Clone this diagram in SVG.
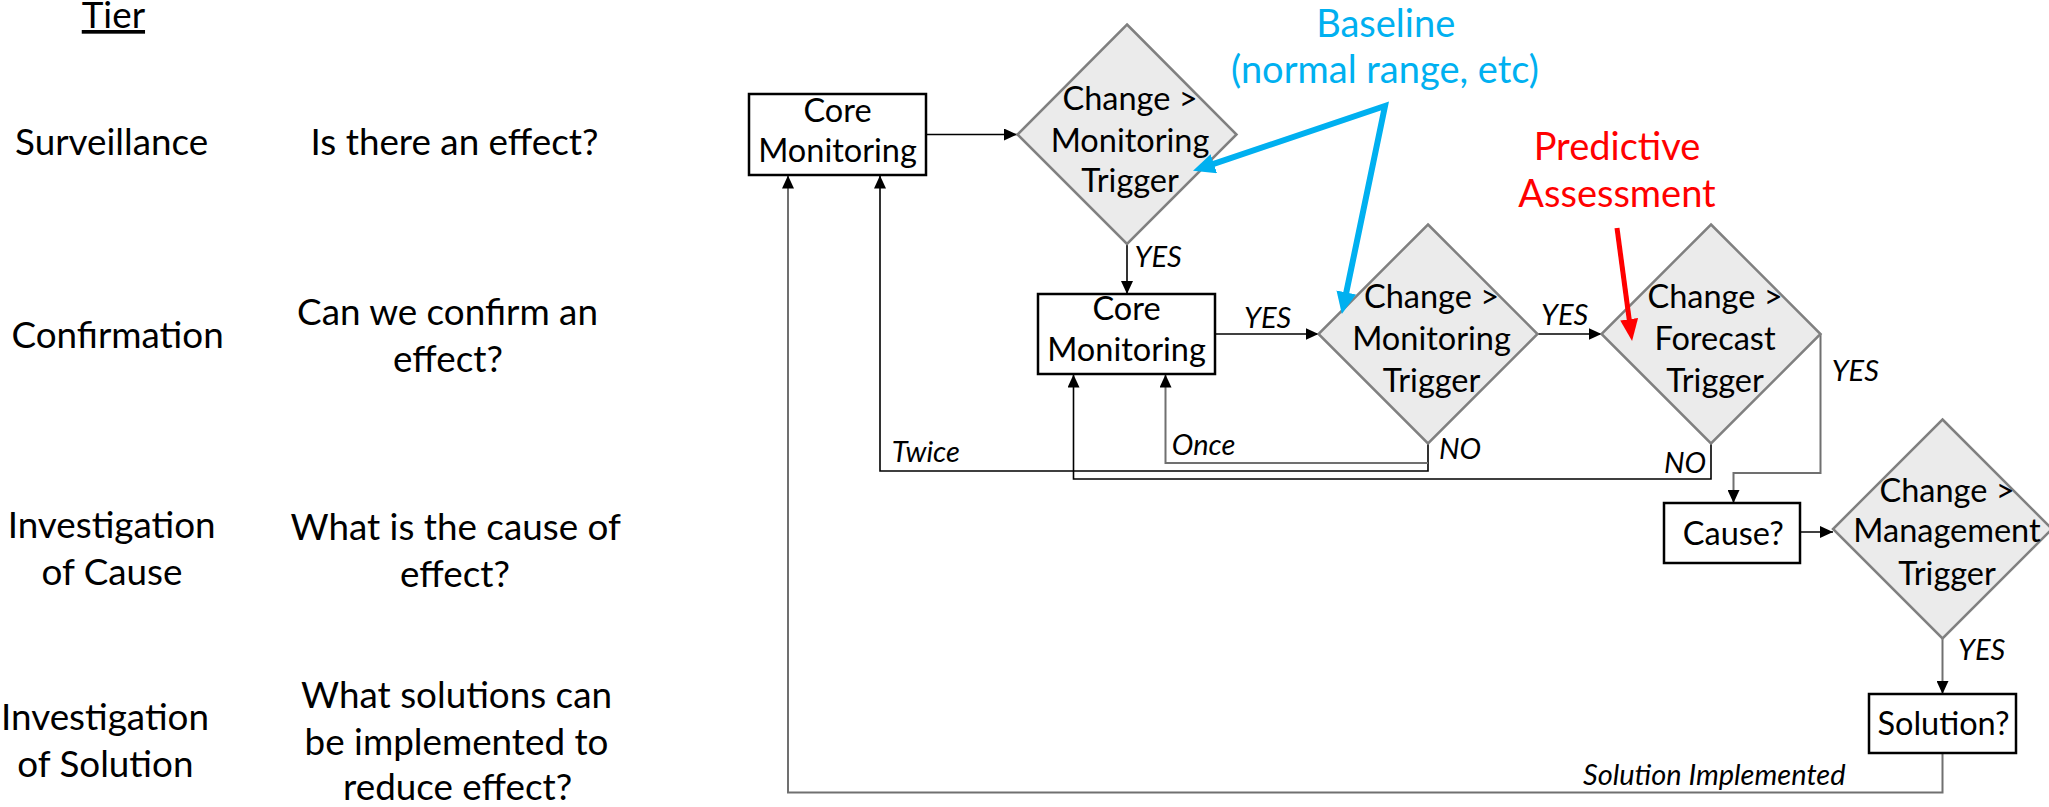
<svg xmlns="http://www.w3.org/2000/svg" width="2049" height="807" viewBox="0 0 2049 807">
<defs>
<marker id="ah" markerUnits="userSpaceOnUse" markerWidth="13" markerHeight="12" viewBox="0 0 13 12" refX="13" refY="6" orient="auto"><path d="M0,0 L13,6 L0,12 z" fill="#000"/></marker>
<marker id="blueHead" markerUnits="userSpaceOnUse" markerWidth="22" markerHeight="20" viewBox="0 0 22 20" refX="1" refY="10" orient="auto-start-reverse"><path d="M0,0 L22,10 L0,20 z" fill="#00B0F0"/></marker>
<marker id="redHead" markerUnits="userSpaceOnUse" markerWidth="22" markerHeight="18" viewBox="0 0 22 18" refX="1" refY="9" orient="auto"><path d="M0,0 L22,9 L0,18 z" fill="#FF0000"/></marker>
</defs>
<style>
text{font-family:Lato,"Liberation Sans",sans-serif;fill:#000}
.big{font-size:36.8px;text-anchor:middle}
.note{font-size:38px;text-anchor:middle}
.nd{font-size:32.5px;text-anchor:middle}
.lbl{font-size:29px;font-style:italic}
.box{fill:#fff;stroke:#000;stroke-width:2.5}
.dia{fill:#EBEBEB;stroke:#808080;stroke-width:2.5}
.ln{fill:none;stroke:#000;stroke-width:1.6;marker-end:url(#ah)}
.lg{fill:none;stroke:#707070;stroke-width:2;marker-end:url(#ah)}
</style>
<rect width="2049" height="807" fill="#fff"/>

<g id="tier-labels">
<text class="big" x="113.4" y="28" text-decoration="underline">Tier</text>
<text class="big" x="111.6" y="155">Surveillance</text>
<text class="big" x="117.6" y="348">Confirmation</text>
<text class="big" x="111.6" y="538">Investigation</text>
<text class="big" x="112" y="585">of Cause</text>
<text class="big" x="105" y="730">Investigation</text>
<text class="big" x="105.4" y="777">of Solution</text>
</g>
<g id="questions">
<text class="big" x="454.5" y="155">Is there an effect?</text>
<text class="big" x="447.5" y="325">Can we confirm an</text>
<text class="big" x="448" y="372">effect?</text>
<text class="big" x="455.7" y="540">What is the cause of</text>
<text class="big" x="455" y="587">effect?</text>
<text class="big" x="456.5" y="708">What solutions can</text>
<text class="big" x="456.5" y="755">be implemented to</text>
<text class="big" x="457.6" y="800">reduce effect?</text>
</g>

<g id="connectors">
<path class="ln" d="M926,134.5 H1017"/>
<path class="ln" d="M1127,244 V294"/>
<path class="ln" d="M1215,334 H1318.5"/>
<path class="ln" d="M1537.5,334 H1601.5"/>
<path class="ln" d="M1428,443.5 V471 H880 V175.5"/>
<path class="lg" d="M1428,463 H1165.5 V374.5"/>
<path class="ln" d="M1711,443.5 V479 H1073.5 V374.5"/>
<path class="lg" d="M1820.5,334 V473 H1733.5 V503"/>
<path class="ln" d="M1800,532 H1833"/>
<path class="lg" d="M1942.5,638.5 V694"/>
<path class="lg" d="M1942.5,753 V792.5 H788 V175.5"/>
<text class="lbl" x="1134.6" y="266.7">YES</text>
<text class="lbl" x="1244" y="328">YES</text>
<text class="lbl" x="1541" y="325">YES</text>
<text class="lbl" x="1831.7" y="380.7">YES</text>
<text class="lbl" x="1958" y="660">YES</text>
<text class="lbl" x="1439" y="459">NO</text>
<text class="lbl" x="1664" y="473">NO</text>
<text class="lbl" x="891.8" y="462">Twice</text>
<text class="lbl" x="1171.8" y="455">Once</text>
<text class="lbl" x="1583" y="785">Solution Implemented</text>
</g>

<g id="core1">
<rect class="box" x="749" y="94" width="177" height="81"/>
<text class="nd" x="837.5" y="121.7">Core</text>
<text class="nd" x="837.5" y="161.7">Monitoring</text>
</g>
<g id="trigger1">
<polygon class="dia" points="1127,24.5 1236.5,134.5 1127,244 1017.5,134.5"/>
<text class="nd" x="1130" y="110">Change &gt;</text>
<text class="nd" x="1130" y="151.5">Monitoring</text>
<text class="nd" x="1130" y="192">Trigger</text>
</g>
<g id="core2">
<rect class="box" x="1038" y="294" width="177" height="80"/>
<text class="nd" x="1126.5" y="320">Core</text>
<text class="nd" x="1126.5" y="361">Monitoring</text>
</g>
<g id="trigger2">
<polygon class="dia" points="1428,224.5 1537.5,334 1428,443.5 1318.5,334"/>
<text class="nd" x="1431.5" y="308">Change &gt;</text>
<text class="nd" x="1431.5" y="350">Monitoring</text>
<text class="nd" x="1431.5" y="391.7">Trigger</text>
</g>
<g id="forecast">
<polygon class="dia" points="1711,224.5 1820.5,334 1711,443.5 1601.5,334"/>
<text class="nd" x="1715" y="308">Change &gt;</text>
<text class="nd" x="1715" y="350">Forecast</text>
<text class="nd" x="1715" y="392">Trigger</text>
</g>
<g id="cause">
<rect class="box" x="1664" y="503" width="136" height="60"/>
<text class="nd" x="1733.3" y="545">Cause?</text>
</g>
<g id="management">
<polygon class="dia" points="1942.5,419.5 2052,529 1942.5,638.5 1833,529"/>
<text class="nd" x="1947" y="501.7">Change &gt;</text>
<text class="nd" x="1947" y="541.7">Management</text>
<text class="nd" x="1947" y="585">Trigger</text>
</g>
<g id="solution">
<rect class="box" x="1869" y="694" width="147" height="59"/>
<text class="nd" x="1943.5" y="735">Solution?</text>
</g>

<g id="baseline-note">
<text class="note" x="1385.7" y="37" style="fill:#00B0F0">Baseline</text>
<text class="note" x="1385" y="83" style="fill:#00B0F0">(normal range, etc)</text>
<path d="M1212.9,164.1 L1385,106 L1346.1,293.4" fill="none" stroke="#00B0F0" stroke-width="6" stroke-linejoin="miter" marker-start="url(#blueHead)" marker-end="url(#blueHead)"/>
</g>
<g id="predictive-note">
<text class="note" x="1617" y="160" style="fill:#FF0000">Predictive</text>
<text class="note" x="1617" y="207" style="fill:#FF0000">Assessment</text>
<path d="M1617,228 L1629.3,320.2" fill="none" stroke="#FF0000" stroke-width="5" marker-end="url(#redHead)"/>
</g>
</svg>
